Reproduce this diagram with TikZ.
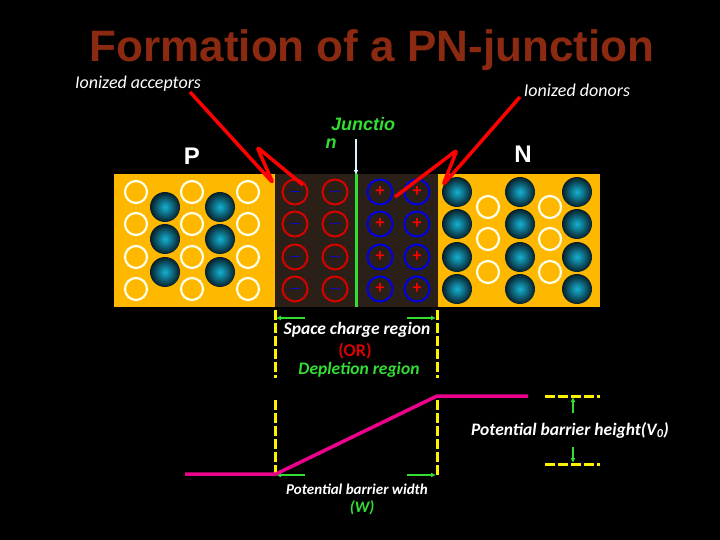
\documentclass[tikz,border=0pt]{standalone}
\usepackage{fontspec}
\setmainfont{Carlito}
\newfontfamily\arial{Liberation Sans}
\usetikzlibrary{arrows.meta}
\definecolor{titlec}{HTML}{8B2A10}
\definecolor{orng}{HTML}{FFB800}
\definecolor{dark}{HTML}{2A2018}
\definecolor{ball}{HTML}{1E90C0}
\definecolor{grn}{HTML}{33DD33}
\newcommand{\fs}[1]{\fontsize{#1}{#1}\selectfont}
\begin{document}
\begin{tikzpicture}[x=1pt,y=-1pt,
  hole/.style={circle,draw=white!90!yellow,line width=2.2pt,minimum size=22pt,inner sep=0pt},
  don/.style={circle,minimum size=30pt,inner sep=0pt,inner color=ball!70!cyan,outer color=black!80!ball},
  acc/.style={circle,draw=red!85!black,line width=2pt,minimum size=25pt,inner sep=0pt,text=blue,font=\bfseries\fs{18}},
  dnr/.style={circle,draw=blue!90!black,line width=2pt,minimum size=25pt,inner sep=0pt,text=red,font=\bfseries\fs{18}},
  lab/.style={font=\itshape\bfseries\fs{17.5},text=white},
  ydash/.style={draw=yellow,line width=3pt,dash pattern=on 10pt off 3pt},
  garr/.style={draw=grn,line width=1.5pt,-{Latex[length=5pt,width=5pt]}},
  bolt/.style={draw=red,line width=3.5pt,line join=round,rounded corners=3pt}]
\fill[black] (0,0) rectangle (720,540);
\useasboundingbox (0,0) rectangle (720,540);
\node[font=\arial\bfseries\fs{44},text=titlec] (title) at (372,50) {Formation of a PN-junction};
\node[lab,font=\itshape\fs{18}] (ia) at (138,84) {Ionized acceptors};
\node[lab,font=\itshape\fs{18}] (id) at (577,90) {Ionized donors};
\node[font=\arial\bfseries\fs{24},text=white] (P) at (192,156) {P};
\node[font=\arial\bfseries\fs{24},text=white] (N) at (523,154) {N};
\node[font=\arial\bfseries\itshape\fs{18},text=grn] (j1) at (363,124) {Junctio};
\node[font=\arial\bfseries\itshape\fs{18},text=grn] (j2) at (331,144) {n};
\fill[orng] (114,174) rectangle (600,307);
\fill[dark] (275,174) rectangle (438,307);
\coordinate (ja) at (356,139); \coordinate (jb) at (356,176);
\draw[white!85!cyan,line width=1.5pt,-{Latex[length=6pt]}] (ja) -- (jb);
\draw[grn,line width=3pt] (356,174) -- (356,307);
\foreach \y in {192,224,257,289}{
  \foreach \x in {136,192,248} \node[hole] at (\x,\y) {};
  \node[acc] at (295,\y) {$-$}; \node[acc] at (335,\y) {$-$};
  \node[dnr] at (380,\y) {+}; \node[dnr] at (417,\y) {+};
  \foreach \x in {457,520,577} \node[don] at (\x,\y) {};
}
\foreach \y in {207,239,272}{
  \foreach \x in {165,220} \node[don] at (\x,\y) {};
  \foreach \x in {488,550} \node[hole] at (\x,\y) {};
}
\draw[bolt] (190,92) -- (273,183) -- (257,147) -- (303,185);
\draw[bolt] (520,97) -- (443,185) -- (457,150) -- (395,197);
% depletion
\draw[ydash] (275,310) -- (275,378) (437,310) -- (437,378);
\draw[ydash] (275,400) -- (275,475) (437,400) -- (437,475);
\draw[garr] (305,318) -- (276,318); \draw[garr] (407,318) -- (436,318);
\draw[garr] (305,475) -- (276,475); \draw[garr] (407,475) -- (436,475);
\node[lab] (scr) at (357,330) {Space charge region};
\node[font=\bfseries\fs{18},text=red!85!black] (or) at (355,351) {(OR)};
\node[font=\itshape\bfseries\fs{17.5},text=grn] (dr) at (359,370) {Depletion region};
\draw[magenta,line width=3.5pt,line join=round] (185,474) -- (276,474) -- (437,396) -- (528,396);
\draw[ydash] (545,396) -- (600,396) (545,464) -- (600,464);
\draw[garr] (573,413) -- (573,397); \draw[garr] (573,447) -- (573,463);
\node[lab] (pbh) at (570,430) {Potential barrier height(\textit{V}\textsubscript{0})};
\node[lab,font=\itshape\bfseries\fs{15}] (pbw) at (357,489) {Potential barrier width};
\node[font=\itshape\bfseries\fs{16},text=grn] (w) at (362,508) {(W)};
\end{tikzpicture}
\end{document}
